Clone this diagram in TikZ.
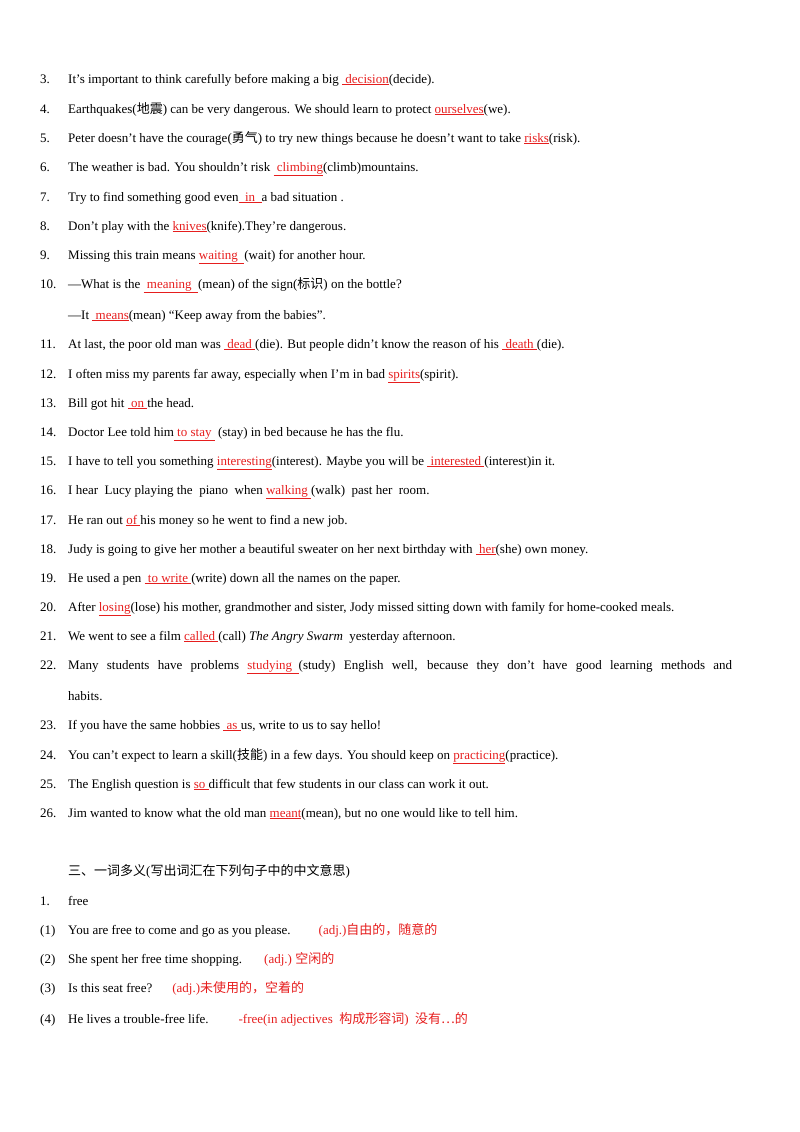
\documentclass[tikz,border=0pt]{standalone}
\usepackage{fontspec}
\setmainfont{Liberation Serif}
\newfontfamily\cjk{Noto Sans CJK SC}
\definecolor{ansred}{RGB}{230,30,30}
\newcommand{\ans}[1]{\textcolor{ansred}{\underline{#1}}}
\newcommand{\rd}[1]{\textcolor{ansred}{#1}}
\tikzset{txt/.style={anchor=base west,inner sep=0pt,font=\fontsize{13}{15}\selectfont}}
\newcommand{\qline}[4]{\node[txt] (n#1) at (40pt,-#2pt) {#3}; \node[txt] (t#1) at (68pt,-#2pt) {#4};}
\begin{document}
\begin{tikzpicture}
\useasboundingbox (0,0) rectangle (800pt,-1132pt);
\qline{3}{83}{3.}{It’s important to think carefully before making a big \ans{ decision}(decide).}
\qline{4}{113}{4.}{Earthquakes({\cjk 地震}) can be very dangerous. We should learn to protect \ans{ourselves}(we).}
\qline{5}{142}{5.}{Peter doesn’t have the courage({\cjk 勇气}) to try new things because he doesn’t want to take \ans{risks}(risk).}
\qline{6}{171}{6.}{The weather is bad. You shouldn’t risk \ans{ climbing}(climb)mountains.}
\qline{7}{201}{7.}{Try to find something good even\ans{\ \ in\ \ }a bad situation .}
\qline{8}{230}{8.}{Don’t play with the \ans{knives}(knife).They’re dangerous.}
\qline{9}{259}{9.}{Missing this train means \ans{waiting\ \ }(wait) for another hour.}
\qline{10}{288}{10.}{—What is the \ans{ meaning\ \ }(mean) of the sign({\cjk 标识}) on the bottle?}
\node[txt] (t10b) at (68pt,-319pt) {—It \ans{ means}(mean) “Keep away from the babies”.};
\qline{11}{348}{11.}{At last, the poor old man was \ans{ dead\ }(die). But people didn’t know the reason of his \ans{ death\ }(die).}
\qline{12}{378}{12.}{I often miss my parents far away, especially when I’m in bad \ans{spirits}(spirit).}
\qline{13}{407}{13.}{Bill got hit \ans{ on\ }the head.}
\qline{14}{436}{14.}{Doctor Lee told him\ans{\ to stay\ }\ (stay) in bed because he has the flu.}
\qline{15}{465}{15.}{I have to tell you something \ans{interesting}(interest). Maybe you will be \ans{ interested\ }(interest)in it.}
\qline{16}{494}{16.}{I hear\ \ Lucy playing the\ \ piano\ \ when \ans{walking\ }(walk)\ \ past her\ \ room.}
\qline{17}{524}{17.}{He ran out \ans{of }his money so he went to find a new job.}
\qline{18}{553}{18.}{Judy is going to give her mother a beautiful sweater on her next birthday with \ans{ her}(she) own money.}
\qline{19}{582}{19.}{He used a pen \ans{ to write\ }(write) down all the names on the paper.}
\qline{20}{611}{20.}{After \ans{losing}(lose) his mother, grandmother and sister, Jody missed sitting down with family for home-cooked meals.}
\qline{21}{640}{21.}{We went to see a film \ans{called }(call) \textit{The Angry Swarm}\ \ yesterday afternoon.}
\qline{22}{669}{22.}{\makebox[664pt][s]{Many students have problems \ans{studying\ \ }(study) English well, because they don’t have good learning methods and}}
\node[txt] (t22b) at (68pt,-700pt) {habits.};
\qline{23}{729}{23.}{If you have the same hobbies \ans{ as\ }us, write to us to say hello!}
\qline{24}{759}{24.}{You can’t expect to learn a skill({\cjk 技能}) in a few days. You should keep on \ans{practicing}(practice).}
\qline{25}{788}{25.}{The English question is \ans{so }difficult that few students in our class can work it out.}
\qline{26}{817}{26.}{Jim wanted to know what the old man \ans{meant}(mean), but no one would like to tell him.}
\node[txt] (h3) at (68pt,-875pt) {{\cjk 三、一词多义}({\cjk 写出词汇在下列句子中的中文意思})};
\qline{f}{905}{1.}{free}
\qline{a}{934}{(1)}{You are free to come and go as you please.\hspace{28pt}\rd{(adj.){\cjk 自由的，随意的}}}
\qline{b}{963}{(2)}{She spent her free time shopping.\hspace{22pt}\rd{(adj.)\ {\cjk 空闲的}}}
\qline{c}{992}{(3)}{Is this seat free?\hspace{20pt}\rd{(adj.){\cjk 未使用的，空着的}}}
\qline{d}{1023}{(4)}{He lives a trouble-free life.\hspace{30pt}\rd{-free(in adjectives\ \ {\cjk 构成形容词})\ \ {\cjk 没有…的}}}
\end{tikzpicture}
\end{document}
